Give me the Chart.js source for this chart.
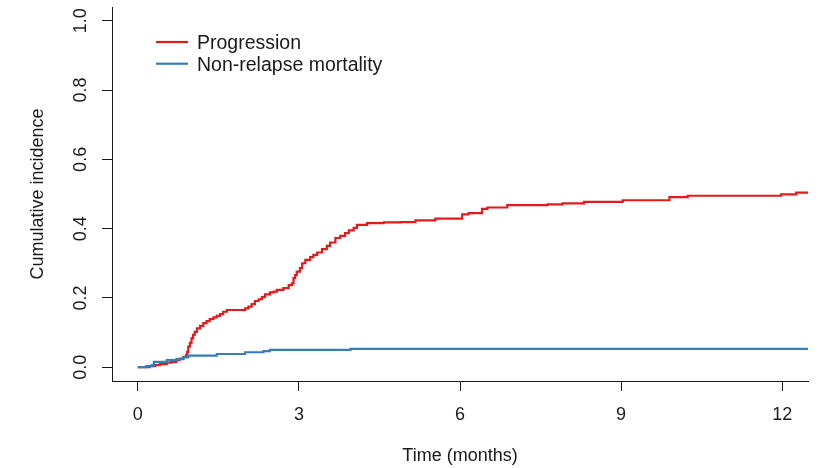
<!DOCTYPE html>
<html>
<head>
<meta charset="utf-8">
<script src="https://cdn.jsdelivr.net/npm/chart.js@4"></script>
<style>
  html, body { margin: 0; padding: 0; background: #fff; }
  #wrap { position: relative; width: 822px; height: 468px; }
</style>
</head>
<body>
<div id="wrap"><canvas id="ciChart"></canvas></div>
<script>
// Cumulative incidence step curves.
const progTime = [0, 0.22, 0.32, 0.41, 0.54, 0.63, 0.72, 0.78, 0.85, 0.90, 0.92, 0.94, 0.97, 1.00, 1.03, 1.06,
  1.10, 1.16, 1.22, 1.28, 1.34, 1.41, 1.47, 1.53, 1.59, 1.66, 1.94, 2.00, 2.06, 2.12, 2.18, 2.25, 2.31, 2.37,
  2.46, 2.53, 2.59, 2.71, 2.81, 2.87, 2.90, 2.93, 2.96, 3.02, 3.06, 3.12, 3.21, 3.27, 3.34, 3.43, 3.52, 3.58,
  3.68, 3.77, 3.86, 3.93, 4.02, 4.08, 4.27, 4.58, 4.89, 5.17, 5.54, 6.04, 6.16, 6.41, 6.51, 6.88, 7.63, 7.91,
  8.31, 9.03, 9.90, 10.24, 11.98, 12.26, 12.5];
const progCI = [0, 0.003, 0.006, 0.009, 0.013, 0.015, 0.020, 0.025, 0.030, 0.035, 0.044, 0.059, 0.070, 0.083, 0.093, 0.102,
  0.112, 0.119, 0.127, 0.133, 0.139, 0.144, 0.148, 0.153, 0.160, 0.165, 0.165, 0.170, 0.175, 0.182, 0.191, 0.196, 0.202, 0.210,
  0.216, 0.218, 0.223, 0.228, 0.237, 0.242, 0.257, 0.266, 0.276, 0.286, 0.300, 0.310, 0.318, 0.324, 0.331, 0.341, 0.350, 0.360,
  0.373, 0.379, 0.387, 0.395, 0.402, 0.411, 0.416, 0.418, 0.419, 0.424, 0.429, 0.441, 0.445, 0.457, 0.461, 0.468, 0.470, 0.473,
  0.477, 0.482, 0.491, 0.495, 0.499, 0.504, 0.508];

const nrmTime = [0, 0.16, 0.26, 0.30, 0.54, 0.72, 0.85, 0.94, 1.47, 2.00, 2.34, 2.46, 3.96, 12.5];
const nrmCI = [0, 0.003, 0.006, 0.015, 0.020, 0.023, 0.028, 0.033, 0.038, 0.043, 0.046, 0.050, 0.053, 0.053];

const xTicks = [0, 3, 6, 9, 12];
const yTicks = [0, 0.2, 0.4, 0.6, 0.8, 1.0];

const X_TITLE = 'Time (months)';
const Y_TITLE = 'Cumulative incidence';

const FONT = '"Liberation Sans", Arial, sans-serif';
const INK = '#1a1a1a';
const RED = '#E41A1C';
const BLUE = '#377EB8';

function toPoints(times, values) {
  return times.map((t, i) => ({ x: t, y: values[i] }));
}

// R-style text: rotated y labels, titles and the in-plot legend.
const rAxisText = {
  id: 'rAxisText',
  afterDraw(chart) {
    const { ctx, chartArea, scales: { x, y } } = chart;
    ctx.save();
    ctx.fillStyle = INK;
    ctx.textAlign = 'center';
    ctx.textBaseline = 'alphabetic';
    ctx.font = `18px ${FONT}`;

    x.ticks.forEach((t) => ctx.fillText(String(t.value), x.getPixelForValue(t.value), x.top + 39));

    y.ticks.forEach((t) => {
      ctx.save();
      ctx.translate(y.right - 26, y.getPixelForValue(t.value));
      ctx.rotate(-Math.PI / 2);
      ctx.fillText(t.value.toFixed(1), 0, 0);
      ctx.restore();
    });

    ctx.fillText(X_TITLE, (chartArea.left + chartArea.right) / 2, x.top + 80);
    ctx.save();
    ctx.translate(43, (chartArea.top + chartArea.bottom) / 2);
    ctx.rotate(-Math.PI / 2);
    ctx.fillText(Y_TITLE, 0, 0);
    ctx.restore();

    // legend, top-left inside the plot
    ctx.font = `19.5px ${FONT}`;
    ctx.textAlign = 'left';
    chart.data.datasets.forEach((ds, i) => {
      const rowY = chartArea.top + 35 + i * 21.7;
      ctx.strokeStyle = ds.borderColor;
      ctx.lineWidth = 2.2;
      ctx.beginPath();
      ctx.moveTo(chartArea.left + 44, rowY);
      ctx.lineTo(chartArea.left + 76, rowY);
      ctx.stroke();
      ctx.fillStyle = INK;
      ctx.fillText(ds.label, chartArea.left + 85, rowY + 7);
    });
    ctx.restore();
  },
};

new Chart(document.getElementById('ciChart'), {
  type: 'line',
  data: {
    datasets: [
      { label: 'Progression', data: toPoints(progTime, progCI), borderColor: RED, order: 1 },
      { label: 'Non-relapse mortality', data: toPoints(nrmTime, nrmCI), borderColor: BLUE, order: 0 },
    ],
  },
  options: {
    responsive: true,
    maintainAspectRatio: false,
    animation: false,
    layout: { padding: { top: 7, right: 14, left: 0, bottom: 0 } },
    elements: {
      point: { radius: 0 },
      line: { borderWidth: 2.2, stepped: true, fill: false },
    },
    plugins: { legend: { display: false }, tooltip: { enabled: false } },
    scales: {
      x: {
        type: 'linear',
        min: -0.48,
        max: 12.48,
        afterBuildTicks: (s) => { s.ticks = xTicks.map((v) => ({ value: v })); },
        afterFit: (s) => { s.height = 87; },
        ticks: { display: false },
        grid: { drawOnChartArea: false, drawTicks: true, tickLength: 10, color: INK, lineWidth: 1 },
        border: { display: true, color: INK, width: 1 },
      },
      y: {
        type: 'linear',
        min: -0.04,
        max: 1.04,
        afterBuildTicks: (s) => { s.ticks = yTicks.map((v) => ({ value: v })); },
        afterFit: (s) => { s.width = 112; },
        ticks: { display: false },
        grid: { drawOnChartArea: false, drawTicks: true, tickLength: 10, color: INK, lineWidth: 1 },
        border: { display: true, color: INK, width: 1 },
      },
    },
  },
  plugins: [rAxisText],
});
</script>
</body>
</html>
